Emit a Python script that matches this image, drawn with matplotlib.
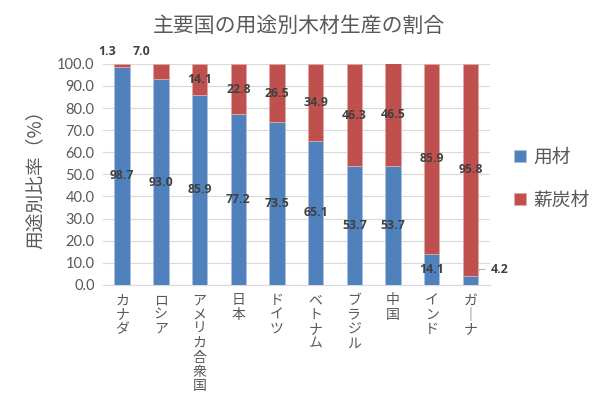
import matplotlib.pyplot as plt
import numpy as np

plt.rcParams["font.family"] = ["Noto Sans CJK JP", "DejaVu Sans"]

countries = ["カナダ", "ロシア", "アメリカ合衆国", "日本", "ドイツ", "ベトナム", "ブラジル", "中国", "インド", "ガーナ"]
yozai = [98.7, 93.0, 85.9, 77.2, 73.5, 65.1, 53.7, 53.7, 14.1, 4.2]
shintan = [1.3, 7.0, 14.1, 22.8, 26.5, 34.9, 46.3, 46.5, 85.9, 95.8]
yticks = [0, 10, 20, 30, 40, 50, 60, 70, 80, 90, 100]

BLUE = "#4F81BD"
RED = "#C0504D"
GRAY = "#595959"

fig = plt.figure(figsize=(5.98, 3.99), dpi=100)
ax = fig.add_axes([0.172, 0.286, 0.647, 0.554])

x = np.arange(len(countries))
w = 0.4
ax.bar(x, yozai, w, color=BLUE, edgecolor="#a9c0de", linewidth=0.6, label="用材", zorder=3)
ax.bar(x, shintan, w, bottom=yozai, color=RED, edgecolor="#e0a9a7", linewidth=0.6, label="薪炭材", zorder=3)

lab = dict(ha="center", va="center", fontsize=8.8, fontweight="bold", color="#404040",
           family=["Open Sans", "DejaVu Sans"], zorder=4)
for i in range(len(countries)):
    if i == len(countries) - 1:
        # small blue segment: label outside with a leader line
        ax.annotate(f"{yozai[i]:.1f}", xy=(x[i] + w / 2, yozai[i] + 1), xytext=(x[i] + 0.75, 7),
                    arrowprops=dict(arrowstyle="-", color="#a6a6a6", lw=0.6,
                                    connectionstyle="angle,angleA=0,angleB=70"),
                    **lab)
    else:
        ax.text(x[i], yozai[i] / 2, f"{yozai[i]:.1f}", **lab)
    if i < 2:
        ax.text(x[i] - 0.4 - 0.1 * i, 105.5, f"{shintan[i]:.1f}", **lab)
    else:
        ax.text(x[i], yozai[i] + shintan[i] / 2, f"{shintan[i]:.1f}", **lab)

ax.set_xlim(-0.5, len(countries) - 0.5)
ax.set_ylim(0, 100)
ax.set_yticks(yticks)
ax.set_yticklabels([f"{v:.1f}" for v in yticks], fontsize=10.5, color=GRAY,
                   family=["Lato", "DejaVu Sans"])
ax.set_xticks(x)
ax.set_xticklabels(["\n".join(c.replace("ー", "｜")) for c in countries],
                   fontsize=10, color=GRAY, linespacing=1.03, va="top")
ax.tick_params(length=0, pad=6)
ax.grid(axis="y", color="#d9d9d9", linewidth=0.8, zorder=0)
for s in ["top", "right", "left"]:
    ax.spines[s].set_visible(False)
ax.spines["bottom"].set_color("#d9d9d9")

ax.set_ylabel("用途別比率（%）", fontsize=13.5, color=GRAY, labelpad=8)
fig.text(0.5, 0.935, "主要国の用途別木材生産の割合", ha="center", va="center", fontsize=15, color=GRAY)

leg = ax.legend(loc="center left", bbox_to_anchor=(1.02, 0.48), frameon=False, fontsize=13.5,
                handlelength=0.6, handleheight=0.6, handletextpad=0.4, labelspacing=1.2,
                labelcolor=GRAY)

fig.savefig("out.png", dpi=100)
